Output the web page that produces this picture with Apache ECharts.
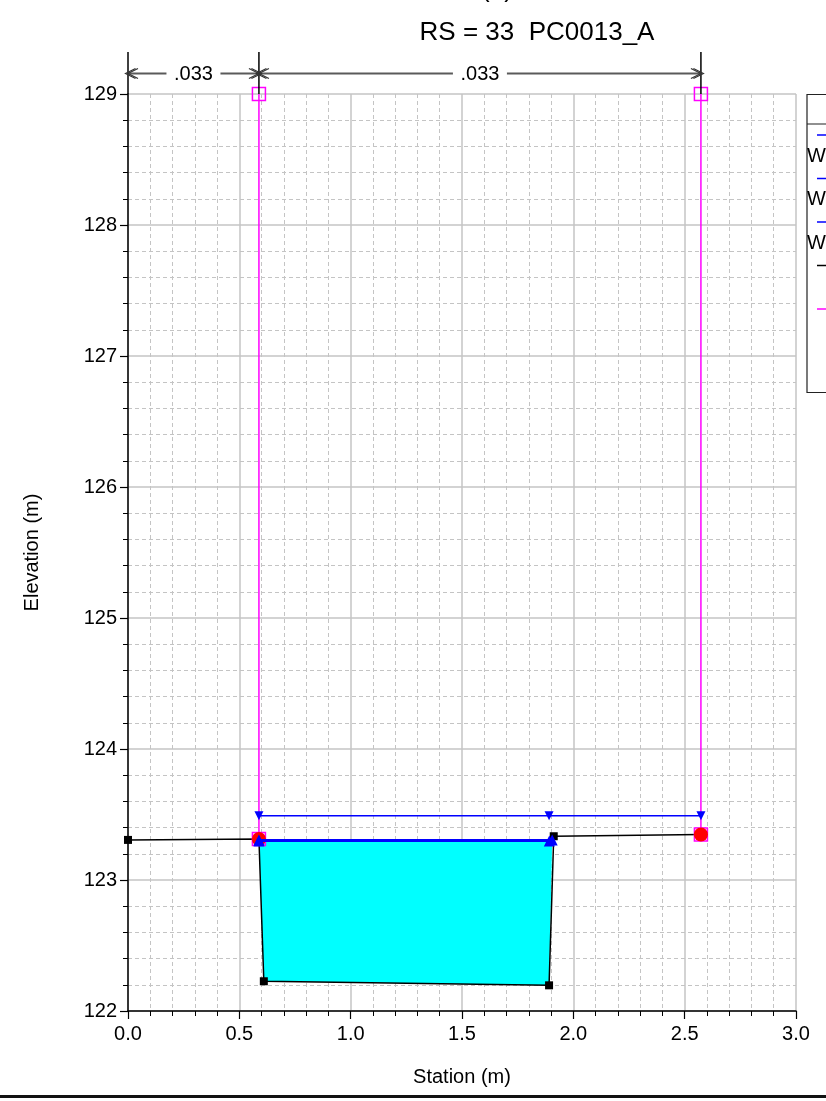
<!DOCTYPE html>
<html>
<head>
<meta charset="utf-8">
<title>RS = 33  PC0013_A</title>
<script src="https://cdn.jsdelivr.net/npm/echarts/dist/echarts.min.js"></script>
<style>
  html, body { margin: 0; padding: 0; background: #fff; }
  #chart { width: 826px; height: 1101px; }
</style>
</head>
<body>
<div id="chart"></div>
<script>
// cross section data
const groundSta = [0.0, 0.588, 0.610, 1.891, 1.912, 2.573];
const groundElev = [123.306, 123.313, 122.227, 122.196, 123.334, 123.347];

const bankSta = [0.588, 2.573];
const bankElev = [123.313, 123.347];
const levTop = 129.0;

// water surfaces
const wsPF3Sta = [0.588, 1.891, 2.573];
const wsPF3Elev = 123.49;
const wsPF2Sta = [0.588, 1.905];
const wsPF2Elev = 123.305;
const wsPF1Sta = [0.588, 1.892];
const wsPF1Elev = 123.298;

// manning n breaks along the top
const nBreaks = [0.0, 0.588, 2.573];
const nLabels = ['.033', '.033'];

const xTickLabels = ['0.0', '0.5', '1.0', '1.5', '2.0', '2.5', '3.0'];
const yTickLabels = ['122', '123', '124', '125', '126', '127', '128', '129'];

const legendNames = ['WS PF 3', 'WS PF 2', 'WS PF 1', 'Ground', 'Levee', 'Bank Sta'];

const FONT = '"Liberation Sans", Arial, Helvetica, sans-serif';
const BLUE = '#0000ff';
const MAGENTA = '#ff00ff';

const xMin = parseFloat(xTickLabels[0]);
const xMax = parseFloat(xTickLabels[xTickLabels.length - 1]);
const yMin = parseFloat(yTickLabels[0]);
const yMax = parseFloat(yTickLabels[yTickLabels.length - 1]);

// wetted area: WS ends plus the ground points under the water
const wetLeft = wsPF2Sta[0];
const wetRight = wsPF2Sta[wsPF2Sta.length - 1];
const waterPoly = [[wetLeft, wsPF2Elev]];
groundSta.forEach((s, i) => {
  if (s > wetLeft && s < wetRight && groundElev[i] < wsPF2Elev) {
    waterPoly.push([s, groundElev[i]]);
  }
});
waterPoly.push([wetRight, wsPF2Elev]);

const wsSeries = (name, sta, elev, symbol, rotate, size, width) => ({
  type: 'line',
  name: name,
  data: sta.map(s => [s, elev]),
  symbol: symbol,
  symbolRotate: rotate,
  symbolSize: size,
  showAllSymbol: true,
  itemStyle: { color: BLUE },
  lineStyle: { color: BLUE, width: width },
  zlevel: 1,
  z: 8,
  silent: true,
  animation: false
});

const chart = echarts.init(document.getElementById('chart'));

const option = {
  animation: false,
  backgroundColor: '#fff',
  grid: { left: 128, right: 30, top: 94, bottom: 90, containLabel: false },
  xAxis: {
    type: 'value',
    min: xMin,
    max: xMax,
    interval: 0.5,
    name: 'Station (m)',
    nameLocation: 'middle',
    nameGap: 56,
    nameTextStyle: { fontFamily: FONT, fontSize: 20, color: '#000' },
    axisLine: { onZero: false, lineStyle: { color: '#000', width: 1.5 } },
    axisTick: { show: true, length: 8, lineStyle: { color: '#000', width: 1.2 } },
    minorTick: { show: true, splitNumber: 5, length: 5, lineStyle: { color: '#000', width: 1 } },
    axisLabel: {
      fontFamily: FONT, fontSize: 20, color: '#000', margin: 13,
      formatter: v => v.toFixed(1)
    },
    splitLine: { show: true, lineStyle: { color: '#c4c4c4', width: 1.5 } },
    minorSplitLine: { show: true, lineStyle: { color: '#c4c4c4', width: 1, type: [4, 3] } }
  },
  yAxis: {
    type: 'value',
    min: yMin,
    max: yMax,
    interval: 1,
    name: 'Elevation (m)',
    nameLocation: 'middle',
    nameGap: 86,
    nameTextStyle: { fontFamily: FONT, fontSize: 20, color: '#000' },
    axisLine: { onZero: false, lineStyle: { color: '#000', width: 1.5 } },
    axisTick: { show: true, length: 8, lineStyle: { color: '#000', width: 1.2 } },
    minorTick: { show: true, splitNumber: 5, length: 5, lineStyle: { color: '#000', width: 1 } },
    axisLabel: { fontFamily: FONT, fontSize: 20, color: '#000', margin: 11 },
    splitLine: { show: true, lineStyle: { color: '#c4c4c4', width: 1.5 } },
    minorSplitLine: { show: true, lineStyle: { color: '#c4c4c4', width: 1, type: [4, 3] } }
  },
  series: [
    {
      type: 'custom',
      name: 'Water',
      data: [waterPoly[0]],
      renderItem: (params, api) => ({
        type: 'polygon',
        shape: { points: waterPoly.map(p => api.coord(p)) },
        style: { fill: '#00ffff', stroke: null }
      }),
      silent: true,
      z: 1
    },
    {
      type: 'line',
      name: 'Ground',
      data: groundSta.map((s, i) => [s, groundElev[i]]),
      symbol: 'rect',
      symbolSize: 8,
      showAllSymbol: true,
      itemStyle: { color: '#000' },
      lineStyle: { color: '#000', width: 1.5 },
      z: 2,
      silent: true
    },
    ...bankSta.map((s, i) => ({
      type: 'line',
      name: 'Levee',
      data: [[s, bankElev[i]], [s, levTop]],
      symbol: 'rect',
      symbolSize: 13,
      itemStyle: { color: 'rgba(0,0,0,0)', borderColor: MAGENTA, borderWidth: 1.5 },
      lineStyle: { color: MAGENTA, width: 1.5 },
      z: 3,
      silent: true
    })),
    {
      type: 'scatter',
      name: 'Bank Sta',
      data: bankSta.map((s, i) => [s, bankElev[i]]),
      symbol: 'circle',
      symbolSize: 14,
      itemStyle: { color: '#ff0000', opacity: 1 },
      zlevel: 1,
      z: 6,
      silent: true
    },
    wsSeries('WS PF 3', wsPF3Sta, wsPF3Elev, 'triangle', 180, 9, 1.5),
    wsSeries('WS PF 2', wsPF2Sta, wsPF2Elev, 'triangle', 0, 11, 2),
    wsSeries('WS PF 1', wsPF1Sta, wsPF1Elev, 'triangle', 0, 11, 2)
  ]
};

chart.setOption(option);

// annotations that sit outside the plot area
const g = [];
const txt = (x, y, text, size, align, valign) => ({
  type: 'text',
  style: {
    x: x, y: y, text: text, fill: '#000',
    font: size + 'px ' + FONT,
    textAlign: align || 'center',
    textVerticalAlign: valign || 'middle'
  },
  z: 20
});
const seg = (x1, y1, x2, y2, color, w) => ({
  type: 'line',
  shape: { x1: x1, y1: y1, x2: x2, y2: y2 },
  style: { stroke: color, lineWidth: w },
  z: 20
});
const chevron = (x, y, dir) => {
  const out = [];
  [0, 2.5].forEach(off => {
    const tip = x + dir * off;
    out.push({
      type: 'polyline',
      shape: { points: [[tip - dir * 10, y - 5], [tip, y], [tip - dir * 10, y + 5]] },
      style: { stroke: '#333', lineWidth: 1.2, fill: null },
      z: 21
    });
  });
  return out;
};

// title
g.push(txt(497, -10, '(1)', 26));
g.push(txt(537, 33, 'RS = 33  PC0013_A', 26));

// n-value dimension arrows
const topY = chart.convertToPixel({ gridIndex: 0 }, [0, yMax])[1];
const arrowY = 73.5;
const tickTop = 52;
nBreaks.forEach(s => {
  const px = chart.convertToPixel({ gridIndex: 0 }, [s, yMax])[0];
  g.push(seg(px, tickTop, px, topY, '#000', 1.5));
});
for (let i = 0; i < nLabels.length; i++) {
  const a = chart.convertToPixel({ gridIndex: 0 }, [nBreaks[i], yMax])[0];
  const b = chart.convertToPixel({ gridIndex: 0 }, [nBreaks[i + 1], yMax])[0];
  const mid = (a + b) / 2;
  const half = 27;
  g.push(seg(a, arrowY, mid - half, arrowY, '#5a5a5a', 2));
  g.push(seg(mid + half, arrowY, b, arrowY, '#5a5a5a', 2));
  g.push(...chevron(a, arrowY, -1));
  g.push(...chevron(b, arrowY, 1));
  g.push(txt(mid, arrowY + 0.5, nLabels[i], 20));
}

// legend box (cut off by the right edge)
const lx = 807;
g.push({
  type: 'rect',
  shape: { x: lx, y: 94.5, width: 160, height: 298 },
  style: { fill: '#fff', stroke: '#222', lineWidth: 1.2 },
  z: 19
});
g.push(seg(lx, 124, lx + 160, 124, '#222', 1.2));
g.push(txt(lx + 80, 109, 'Legend', 20));
const legendColors = [BLUE, BLUE, BLUE, '#000', MAGENTA, '#ff0000'];
legendNames.forEach((name, i) => {
  const ly = 135 + i * 43.5;
  if (name === 'Bank Sta') {
    g.push({
      type: 'circle',
      shape: { cx: lx + 30, cy: ly, r: 6 },
      style: { fill: legendColors[i] },
      z: 20
    });
  } else {
    g.push(seg(lx + 10, ly, lx + 50, ly, legendColors[i], 1.5));
  }
  if (name.indexOf('WS') === 0) {
    g.push(txt(lx, ly + 21, name, 20, 'left'));
  } else {
    g.push(txt(lx + 56, ly, name, 20, 'left'));
  }
});

// rule across the bottom
g.push({
  type: 'rect',
  shape: { x: 0, y: 1095, width: 826, height: 3 },
  style: { fill: '#111' },
  z: 20
});

chart.setOption({ graphic: { elements: g } });

window.addEventListener('resize', () => chart.resize());
</script>
</body>
</html>
